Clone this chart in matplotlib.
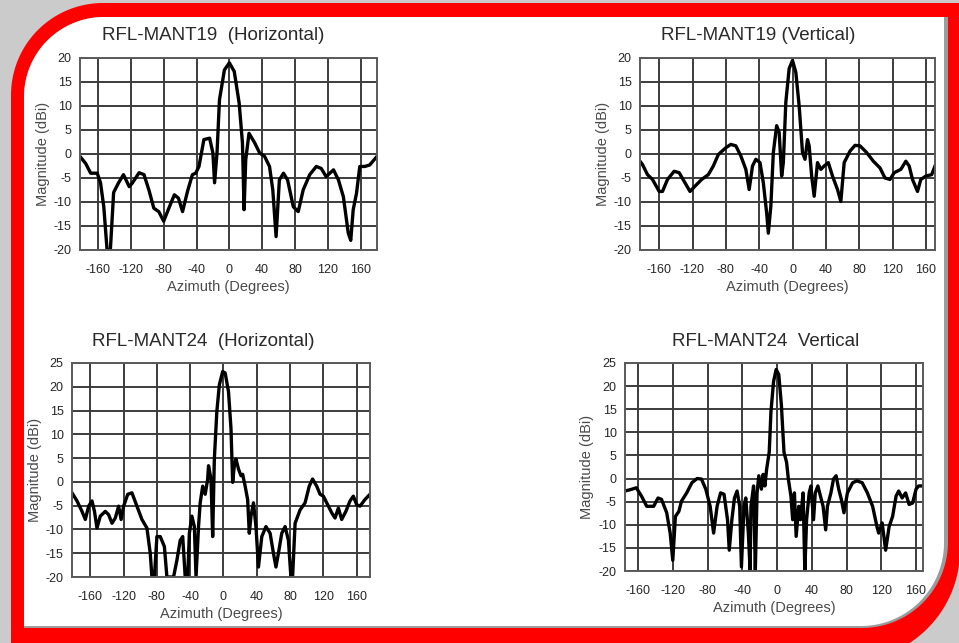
import numpy as np
import matplotlib
matplotlib.use("Agg")
import matplotlib.pyplot as plt
from matplotlib.patches import Polygon

plt.rcParams['font.family'] = ['Liberation Sans', 'DejaVu Sans']
plt.rcParams['axes.unicode_minus'] = False

# --- data (azimuth in degrees, magnitude in dBi) ---
az_19h = [-182, -175, -169, -161, -157, -153, -149, -145, -141, -135, -129, -122, -118,
          -110, -104, -98, -92, -86, -80, -73, -67, -62, -57, -51, -45, -41, -37, -31,
          -24, -20, -18, -15, -12, -6, 0, 6, 12, 16, 18, 20, 24, 31, 37, 43, 49, 53, 57,
          61, 66, 71, 78, 84, 90, 98, 106, 112, 118, 127, 133, 139, 145, 148, 151, 155,
          159, 165, 171, 180]
mag_19h = [-0.5, -2, -4, -4, -6, -11, -20, -20, -8, -6, -4.3, -6.8, -6, -3.9, -4.3, -7.5,
           -11.3, -12, -14, -11, -8.5, -9.2, -12, -7.8, -4.3, -4, -2.6, 3, 3.3, 0.2, -6,
           0.2, 11.3, 17.5, 19, 17.2, 10.6, 2.3, -11.6, -1.2, 4.3, 2.3, 0.2, -0.5, -2.6,
           -7.5, -17.2, -5.4, -4, -5.4, -11, -12, -7.5, -4.3, -2.6, -3, -4.7, -3.3, -5.4,
           -8.9, -16.5, -18, -11.6, -8.2, -2.6, -2.6, -2.3, -0.5]

az_19v = [-183, -180, -174, -168, -160, -156, -150, -142, -136, -129, -123, -117, -109,
          -101, -95, -89, -80, -74, -68, -62, -56, -52, -48, -44, -39, -35, -31, -29, -26,
          -23, -19, -16, -13, -11, -8, -4, 0, 4, 8, 12, 15, 18, 20, 23, 26, 30, 34, 38,
          43, 48, 54, 58, 62, 69, 75, 81, 89, 97, 105, 111, 117, 122, 130, 136, 140, 144,
          150, 154, 160, 167, 171]
mag_19v = [-1.5, -2.2, -4.3, -5.3, -7.8, -7.8, -5.3, -3.6, -3.9, -6, -7.8, -6.7, -5.3,
           -4.3, -2.5, -0.1, 1.3, 2, 1.7, -0.4, -3.2, -7.4, -2.5, -1.1, -1.8, -6, -12.3,
           -16.5, -10.9, 0.3, 5.9, 4.5, -4.6, -1.8, 10.8, 17.8, 19.5, 17, 10, 0.3, -1.1,
           3, 1.7, -4.6, -8.8, -1.8, -3.2, -2.5, -1.8, -4.6, -7.4, -9.9, -1.8, 0.6, 1.8,
           1.7, 0.3, -1.5, -2.9, -5, -5.3, -3.9, -3.2, -1.5, -2.5, -5.3, -7.8, -5.3, -4.6,
           -4.3, -2.5]

az_24h = [-182, -176, -170, -166, -162, -158, -155, -152, -148, -142, -138, -134, -130,
          -126, -123, -120, -115, -110, -104, -98, -92, -88, -86, -83, -80, -76, -71, -68,
          -60, -56, -52, -49, -46, -43, -41, -38, -35, -33, -30, -28, -25, -22, -19, -18,
          -15, -13, -11, -8, -5, -1, 2, 6, 9, 11, 13, 15, 18, 21, 23, 26, 29, 31, 33, 36,
          39, 42, 46, 51, 56, 60, 63, 66, 70, 74, 78, 81, 83, 86, 92, 98, 103, 107, 112,
          116, 120, 124, 130, 134, 138, 142, 147, 152, 156, 160, 164, 170, 176]
mag_24h = [-2.3, -4, -6.2, -7.9, -5.1, -4, -6.2, -9.7, -7.2, -6.2, -6.9, -8.7, -7.6, -5.1,
           -7.9, -5.1, -2.6, -2.3, -5.1, -7.9, -9.7, -15, -20, -20, -11.5, -11.5, -13.6,
           -20, -20, -16.5, -12.3, -11.5, -20, -20, -10.8, -7.2, -9.4, -20, -9.4, -4.4,
           -0.9, -2.6, 0.6, 3.4, 0.6, -11.5, 4.8, 14.8, 20.4, 23.2, 22.9, 19, 11.2, -0.1,
           3.4, 4.8, 2.7, 1.3, 1.6, -0.9, -3.7, -10.8, -7.2, -4.4, -9.4, -17.9, -11.5,
           -9.4, -10.8, -15, -17.9, -15, -10.8, -9.4, -12.3, -20, -20, -8.7, -5.9, -4.4,
           -0.9, 0.6, -0.9, -2.6, -3, -4.4, -6.5, -7.6, -5.5, -7.9, -6.2, -4, -3, -4.8,
           -5.1, -3.7, -2.6]

az_24v = [-175, -167, -162, -156, -150, -142, -137, -133, -127, -123, -120, -117, -113,
          -110, -104, -98, -92, -87, -82, -77, -73, -69, -65, -61, -57, -55, -52, -49, -46,
          -43, -41, -38, -36, -33, -31, -30, -27, -25, -23, -21, -18, -16, -14, -12, -9,
          -7, -4, -1, 2, 5, 8, 11, 13, 16, 18, 20, 22, 25, 27, 30, 32, 34, 37, 39, 42, 44,
          47, 50, 53, 56, 58, 62, 65, 68, 71, 74, 77, 81, 87, 92, 98, 104, 110, 115, 117,
          121, 125, 129, 133, 137, 140, 144, 148, 152, 156, 160, 163, 168]
mag_24v = [-2.7, -2.3, -2, -3.8, -6, -6, -4.2, -4.5, -7.4, -11.8, -17.7, -8.2, -7.1, -4.9,
           -3.1, -0.9, 0, -0.1, -2.3, -6, -11.8, -6, -3.1, -3.4, -8.9, -15.5, -8.9, -4.2,
           -2.7, -6, -19.1, -6, -4.2, -11.8, -19.9, -6, -1.6, -19.9, -3.1, 0.6, -2.3, 0.9,
           -1.6, 2, 5.7, 14.5, 21, 23.6, 22.5, 15.9, 5.7, 3.5, -0.1, -3.8, -8.9, -3.1,
           -12.5, -6, -8.9, -3.1, -20, -8.9, -3.1, -1.6, -8.9, -3.1, -1.6, -3.8, -6, -11.1,
           -6, -3.1, -0.1, 0.6, -2.3, -4.5, -7.4, -3.1, -0.9, -0.5, -0.9, -3.1, -6, -10.4,
           -11.8, -9.6, -15.5, -10.4, -8.2, -3.8, -2.7, -4.2, -3.1, -5.6, -5.3, -2.3,
           -1.6, -1.6]

titles = ["RFL-MANT19  (Horizontal)", "RFL-MANT19 (Vertical)",
          "RFL-MANT24  (Horizontal)", "RFL-MANT24  Vertical"]
x_ticks = [-160, -120, -80, -40, 0, 40, 80, 120, 160]

W, H = 959, 643
fig = plt.figure(figsize=(W / 100, H / 100), dpi=100)
fig.patch.set_facecolor('#cbcbcb')

# background frame drawn in pixel coordinates
bg = fig.add_axes([0, 0, 1, 1])
bg.set_xlim(0, W)
bg.set_ylim(H, 0)
bg.axis('off')


def frame(x0, y0, x1, y1, r_tl, r_br, color):
    t = np.linspace(np.pi, 1.5 * np.pi, 40)
    pts = list(zip(x0 + r_tl + r_tl * np.cos(t), y0 + r_tl + r_tl * np.sin(t)))
    pts.append((x1, y0))
    t = np.linspace(0, 0.5 * np.pi, 40)
    pts += list(zip(x1 - r_br + r_br * np.cos(t), y1 - r_br + r_br * np.sin(t)))
    pts.append((x0, y1))
    bg.add_patch(Polygon(pts, closed=True, facecolor=color, edgecolor='none'))


frame(11, 3, 960, 661, 92, 111, '#fe0000')
frame(24, 17, 948, 628, 80, 86, '#9c9c9c')
frame(24, 17, 944, 626, 80, 83, 'white')

# panels: (left, top, right, bottom) in pixels
boxes = [(80, 58, 377, 250), (640, 58, 935, 250),
         (72, 363, 370, 577), (625, 363, 923, 571)]
xlims = [(-182, 180), (-183, 171), (-182, 176), (-175, 168)]
ylims = [(-20, 20), (-20, 20), (-20, 25), (-20, 25)]
title_pos = [(213, 35), (758, 35), (203, 341), (766, 341)]
series = [(az_19h, mag_19h), (az_19v, mag_19v), (az_24h, mag_24h), (az_24v, mag_24v)]

for i, (l, t, r, b) in enumerate(boxes):
    ax = fig.add_axes([l / W, 1 - b / H, (r - l) / W, (b - t) / H])
    az, mag = series[i]
    ax.plot(az, mag, color='black', lw=2.4, solid_joinstyle='round')
    ax.set_xlim(*xlims[i])
    ax.set_ylim(*ylims[i])
    ax.set_xticks(x_ticks)
    ax.set_yticks(np.arange(ylims[i][0], ylims[i][1] + 1, 5))
    ax.grid(True, color='#3c3c3c', lw=1.4)
    ax.set_axisbelow(True)
    for s in ax.spines.values():
        s.set_color('#5a5a5a')
        s.set_linewidth(1.4)
    ax.tick_params(length=0, labelsize=9, labelcolor='#262626')
    ax.tick_params(axis='x', pad=10)
    ax.tick_params(axis='y', pad=6)
    ax.set_xlabel("Azimuth (Degrees)", fontsize=10.5, color='#4a4a4a', labelpad=3)
    ax.set_ylabel("Magnitude (dBi)", fontsize=10.5, color='#4a4a4a', labelpad=3)
    bg.text(title_pos[i][0], title_pos[i][1], titles[i], fontsize=13.5,
            color='#2a2a2a', ha='center', va='center')

fig.savefig("out.png", dpi=100, facecolor=fig.get_facecolor())
